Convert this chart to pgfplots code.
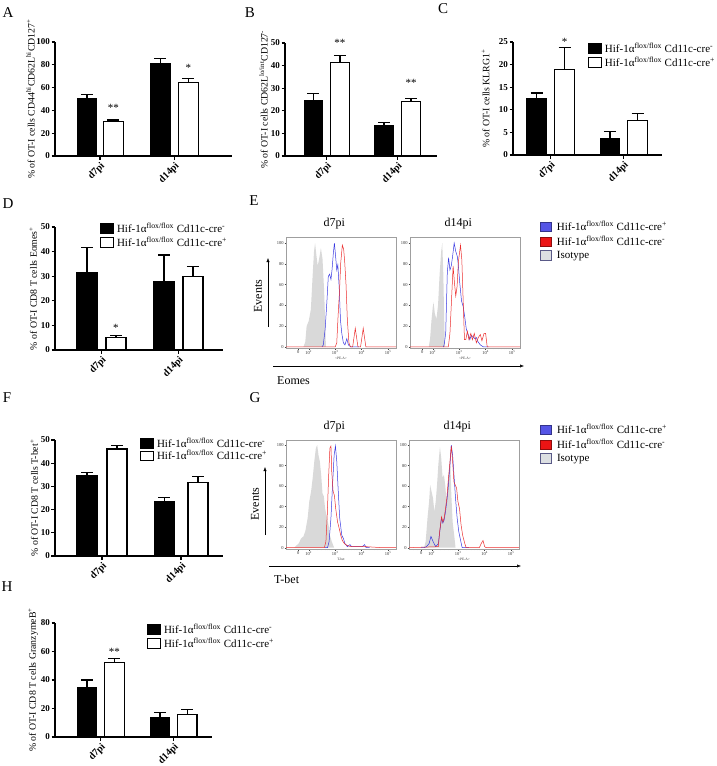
\documentclass[border=0pt]{standalone}
\usepackage{fontspec}
\setmainfont{Liberation Serif}
\usepackage{pgfplots}
\pgfplotsset{compat=1.18}
\usetikzlibrary{arrows.meta}
\definecolor{hblue}{RGB}{55,55,225}
\definecolor{hred}{RGB}{235,45,45}
\definecolor{hgray}{RGB}{217,217,217}
\definecolor{lgblue}{RGB}{85,85,230}
\definecolor{lgred}{RGB}{235,20,20}
\definecolor{lggray}{RGB}{220,223,226}
\newcommand{\legA}{Hif-1α\textsuperscript{flox/flox} Cd11c-cre\textsuperscript{-}}
\newcommand{\legB}{Hif-1α\textsuperscript{flox/flox} Cd11c-cre\textsuperscript{+}}
\newcommand{\blackbox}{\addlegendimage{legend image code/.code={\draw[fill=black,draw=black,line width=1pt] (0pt,-4.8pt) rectangle (13pt,4.8pt);}}}
\newcommand{\whitebox}{\addlegendimage{legend image code/.code={\draw[fill=white,draw=black,line width=1pt] (0pt,-4.8pt) rectangle (13pt,4.8pt);}}}
\newcommand{\bluebox}{\addlegendimage{legend image code/.code={\draw[fill=lgblue,draw=lgblue!60!black,line width=0.4pt] (0pt,-4.6pt) rectangle (10.5pt,4.6pt);}}}
\newcommand{\redbox}{\addlegendimage{legend image code/.code={\draw[fill=lgred,draw=lgred!60!black,line width=0.4pt] (0pt,-4.6pt) rectangle (10.5pt,4.6pt);}}}
\newcommand{\graybox}{\addlegendimage{legend image code/.code={\draw[fill=lggray,draw=black!40!blue!30!gray,line width=0.6pt] (0pt,-4.6pt) rectangle (10.5pt,4.6pt);}}}
\pgfplotsset{
  barax/.style={
    scale only axis, anchor=south west, clip=false,
    axis x line*=bottom, axis y line*=left,
    axis line style={line width=1.2pt,-},
    tick style={line width=1.2pt,black},
    tick align=outside, major tick length=3.5pt,
    ymin=0, xtick={1,2}, xticklabels={d7pi,d14pi},
    x tick label style={rotate=45, anchor=north east, inner sep=1pt, font=\fontsize{10}{10}\selectfont\bfseries},
    y tick label style={font=\fontsize{9}{9}\selectfont\bfseries, inner sep=1.5pt},
    /pgf/number format/assume math mode=true,
    ybar, bar width=19.5pt, bar shift=0pt,
    ylabel style={font=\fontsize{9.8}{11}\selectfont, anchor=south},
    legend style={draw=none, fill=none, anchor=north west, inner sep=0pt, row sep=1.5pt, column sep=2pt, nodes={inner sep=0.8pt}, font=\fontsize{11}{12}\selectfont},
    legend cell align=left,
  },
  blackbar/.style={fill=black, draw=black, line width=1.2pt,
    error bars/y dir=plus, error bars/y explicit,
    error bars/error bar style={line width=1.2pt, black},
    error bars/error mark options={rotate=90, mark size=6pt, line width=1.2pt, black}},
  whitebar/.style={fill=white, draw=black, line width=1.2pt,
    error bars/y dir=plus, error bars/y explicit,
    error bars/error bar style={line width=1.2pt, black},
    error bars/error mark options={rotate=90, mark size=6pt, line width=1.2pt, black}},
  histax/.style={
    scale only axis, anchor=south west, width=110pt,
    xmin=1.14, xmax=5.3, ymin=-1, ymax=105.8,
    axis line style={draw=gray!75, line width=0.5pt},
    xtick={1.6,2,3,4,5},
    xticklabels={0,10\textsuperscript{2},10\textsuperscript{3},10\textsuperscript{4},10\textsuperscript{5}},
    minor xtick={1.3,1.45,1.75,1.88,2.301,2.477,2.602,2.699,2.778,2.845,2.903,2.954,3.301,3.477,3.602,3.699,3.778,3.845,3.903,3.954,4.301,4.477,4.602,4.699,4.778,4.845,4.903,4.954},
    ytick={0,20,40,60,80,100},
    xtick pos=bottom, ytick pos=left, tick align=outside,
    major tick length=1.5pt, minor tick length=1pt,
    tick style={gray!50!black, line width=0.3pt},
    tick label style={font=\fontsize{4.5}{5}\selectfont, text=gray!40!black, inner sep=0.8pt},
    /pgf/number format/assume math mode=true,
    xlabel style={font=\fontsize{3.5}{4}\selectfont, text=gray!40!black, at={(axis description cs:0.5,0)}, anchor=north, yshift=-6pt},
    title style={font=\fontsize{12}{12}\selectfont, at={(axis description cs:0.44,1)}, anchor=south, inner sep=2pt},
    legend style={draw=none, fill=none, anchor=north west, inner sep=0pt, row sep=2.5pt, column sep=5pt, nodes={inner sep=0.8pt}, font=\fontsize{11}{12}\selectfont},
    legend cell align=left,
  },
  grayh/.style={fill=hgray, draw=none},
  blueh/.style={draw=hblue, line width=0.5pt},
  redh/.style={draw=hred, line width=0.5pt},
}
\begin{document}
\begin{tikzpicture}
\path[use as bounding box] (0pt,0pt) rectangle (716pt,-766pt);
% ---------------- A
\begin{axis}[barax, at={(55pt,-156pt)}, width=177pt, height=114pt,
  xmin=0.396, xmax=2.772, ymax=100, ytick={0,20,40,60,80,100},
  ylabel={\% of OT-I cells CD44\textsuperscript{hi}CD62L\textsuperscript{hi}CD127\textsuperscript{+}},
  ylabel style={at={(axis description cs:-0.095,0.5)}}]
\addplot[blackbar] coordinates {(0.8255,50) +- (0,4) (1.812,81) +- (0,4.3)};
\addplot[whitebar] coordinates {(1.181,30.5) +- (0,1) (2.188,64.8) +- (0,3.4)};
\node[font=\fontsize{11}{11}\selectfont] at (axis cs:1.181,42) {**};
\node[font=\fontsize{11}{11}\selectfont] at (axis cs:2.188,77) {*};
\end{axis}
% ---------------- B
\begin{axis}[barax, at={(285pt,-156pt)}, width=152pt, height=113pt, bar width=18.5pt,
  xmin=0.41, xmax=2.558, ymax=50, ytick={0,10,20,30,40,50},
  ylabel={\% of OT-I cells CD62L\textsuperscript{lo/int}CD127\textsuperscript{-}},
  ylabel style={at={(axis description cs:-0.09,0.5)}}]
\addplot[blackbar] coordinates {(0.8127,24.7) +- (0,3) (1.809,13.4) +- (0,1.6)};
\addplot[whitebar] coordinates {(1.187,41.4) +- (0,2.9) (2.191,24) +- (0,1.6)};
\node[font=\fontsize{11}{11}\selectfont] at (axis cs:1.187,50.2) {**};
\node[font=\fontsize{11}{11}\selectfont] at (axis cs:2.191,32.5) {**};
\end{axis}
% ---------------- C
\begin{axis}[barax, at={(513pt,-155pt)}, width=149pt, height=113pt,
  xmin=0.488, xmax=2.522, ymax=25, ytick={0,5,10,15,20,25},
  ylabel={\% of OT-I cells KLRG1\textsuperscript{+}},
  ylabel style={at={(axis description cs:-0.134,0.5)}},
  legend style={at={(axis description cs:0.503,1.0)}}]
\addplot[blackbar, forget plot] coordinates {(0.809,12.5) +- (0,1.2) (1.812,3.7) +- (0,1.5)};
\addplot[whitebar, forget plot] coordinates {(1.191,18.9) +- (0,4.8) (2.188,7.6) +- (0,1.5)};
\node[font=\fontsize{11}{11}\selectfont] at (axis cs:1.191,25) {*};
\blackbox\addlegendentry{\legA}
\whitebox\addlegendentry{\legB}
\end{axis}
% ---------------- D
\begin{axis}[barax, at={(55pt,-350pt)}, width=168pt, height=123pt, bar width=20pt,
  xmin=0.396, xmax=2.578, ymax=50, ytick={0,10,20,30,40,50},
  ylabel={\% of OT-I CD8 T cells Eomes\textsuperscript{+}},
  ylabel style={at={(axis description cs:-0.086,0.5)}},
  legend style={at={(axis description cs:0.268,1.04)}}]
\addplot[blackbar, forget plot] coordinates {(0.812,31.3) +- (0,10.3) (1.812,27.9) +- (0,10.7)};
\addplot[whitebar, forget plot] coordinates {(1.188,5.1) +- (0,0.7) (2.188,29.8) +- (0,4)};
\node[font=\fontsize{11}{11}\selectfont] at (axis cs:1.188,9) {*};
\blackbox\addlegendentry{\legA}
\whitebox\addlegendentry{\legB}
\end{axis}
% ---------------- F
\begin{axis}[barax, at={(55pt,-556pt)}, width=168pt, height=116pt, bar width=20pt,
  xmin=0.405, xmax=2.53, ymax=50, ytick={0,10,20,30,40,50},
  ylabel={\% of OT-I CD8 T cells T-bet\textsuperscript{+}},
  ylabel style={at={(axis description cs:-0.08,0.5)}},
  legend style={at={(axis description cs:0.506,1.026)}, row sep=0pt}]
\addplot[blackbar, forget plot] coordinates {(0.81,34.6) +- (0,1.4) (1.785,23.6) +- (0,1.6)};
\addplot[whitebar, forget plot] coordinates {(1.19,46.1) +- (0,1.4) (2.215,31.7) +- (0,2.4)};
\blackbox\addlegendentry{\legA}
\whitebox\addlegendentry{\legB}
\end{axis}
% ---------------- H
\begin{axis}[barax, at={(55pt,-737pt)}, width=157pt, height=114pt,
  xmin=0.373, xmax=2.524, ymax=80, ytick={0,20,40,60,80},
  ylabel={\% of OT-I CD8 T cells GranzymeB\textsuperscript{+}},
  ylabel style={at={(axis description cs:-0.086,0.5)}},
  legend style={at={(axis description cs:0.586,1.0)}}]
\addplot[blackbar, forget plot] coordinates {(0.812,34.8) +- (0,5.2) (1.812,13.6) +- (0,3.6)};
\addplot[whitebar, forget plot] coordinates {(1.188,52.5) +- (0,2.5) (2.185,15.8) +- (0,3.7)};
\node[font=\fontsize{11}{11}\selectfont] at (axis cs:1.188,59.5) {**};
\blackbox\addlegendentry{\legA}
\whitebox\addlegendentry{\legB}
\end{axis}
% ---------------- E d7
\begin{axis}[histax, at={(286pt,-348pt)}, height=111pt, title={d7pi}, xlabel={\textless PE-A\textgreater}]
\addplot[grayh] coordinates {(1.8,0)(1.87,5)(1.92,20)(2.0,25)(2.08,36)(2.15,70)(2.2,92)(2.24,100)(2.29,88)(2.34,78)(2.4,86)(2.46,95)(2.52,85)(2.58,55)(2.62,25)(2.65,0)} \closedcycle;
\addplot[blueh] coordinates {(2.5,0)(2.55,2)(2.62,17)(2.69,45)(2.74,68)(2.79,70)(2.84,65)(2.88,74)(2.93,90)(2.97,100)(3.02,86)(3.06,74)(3.1,79)(3.15,58)(3.2,26)(3.25,13)(3.31,4)(3.37,2)(3.44,8)(3.5,2)(3.59,0)(3.9,0)};
\addplot[redh] coordinates {(1.14,0)(3.0,0)(3.06,4)(3.11,30)(3.16,52)(3.21,81)(3.27,98)(3.32,94)(3.36,82)(3.41,60)(3.46,26)(3.52,4)(3.58,0)(3.66,0)(3.76,18)(3.86,0)(3.96,0)(4.06,18)(4.16,0)(5.3,0)};
\end{axis}
% ---------------- E d14
\begin{axis}[histax, at={(410pt,-348pt)}, height=111pt, title={d14pi}, xlabel={\textless PE-A\textgreater},
  legend style={at={(axis description cs:1.18,1.153)}}]
\addplot[grayh, forget plot] coordinates {(1.85,0)(1.9,8)(1.95,25)(2.0,38)(2.03,43)(2.08,32)(2.14,27)(2.2,40)(2.26,70)(2.32,92)(2.36,100)(2.4,70)(2.43,30)(2.46,0)} \closedcycle;
\addplot[blueh, forget plot] coordinates {(2.4,0)(2.43,2)(2.49,13)(2.55,71)(2.6,86)(2.65,74)(2.7,78)(2.75,87)(2.81,100)(2.87,92)(2.93,87)(2.97,78)(3.02,62)(3.09,44)(3.15,39)(3.21,29)(3.27,17)(3.34,12)(3.4,7)(3.46,11)(3.52,10)(3.59,8)(3.65,9)(3.71,5)(3.8,2)(3.92,0)(4.1,0)};
\addplot[redh, forget plot] coordinates {(1.14,0)(2.59,0)(2.65,13)(2.71,45)(2.77,78)(2.82,62)(2.87,49)(2.92,58)(2.97,82)(3.05,98)(3.1,84)(3.15,45)(3.2,7)(3.25,7)(3.31,15)(3.37,7)(3.44,13)(3.5,7)(3.57,13)(3.65,4)(3.72,9)(3.8,12)(3.86,6)(3.94,13)(4.0,13)(4.06,0)(5.3,0)};
\bluebox\addlegendentry{\legB}
\redbox\addlegendentry{\legA}
\graybox\addlegendentry{Isotype}
\end{axis}
% ---------------- G d7
\begin{axis}[histax, at={(286pt,-549pt)}, height=109pt, ymin=-1.3, ymax=104.9, title={d7pi}, xlabel={T-bet}]
\addplot[grayh] coordinates {(1.45,0)(1.53,2)(1.62,4)(1.71,9)(1.8,11)(1.87,16)(1.96,29)(2.02,45)(2.09,55)(2.15,68)(2.21,84)(2.27,97)(2.32,100)(2.37,90)(2.42,84)(2.47,71)(2.52,53)(2.57,50)(2.62,38)(2.69,29)(2.75,22)(2.8,12)(2.87,6)(2.96,0)} \closedcycle;
\addplot[blueh] coordinates {(2.6,0)(2.71,0)(2.77,6)(2.84,29)(2.9,61)(2.96,90)(3.01,99)(3.06,84)(3.11,58)(3.17,29)(3.25,12)(3.31,9)(3.37,4)(3.46,1)(3.56,3)(3.62,1)(4.03,1)(4.11,3)(4.17,0)(4.3,0)};
\addplot[redh] coordinates {(1.14,0)(2.59,0)(2.65,6)(2.7,32)(2.75,68)(2.8,97)(2.84,99)(2.87,74)(2.92,55)(2.97,51)(3.02,38)(3.09,25)(3.15,19)(3.21,12)(3.27,7)(3.35,4)(3.46,2)(3.59,1)(4.15,1)(4.78,0)(5.3,0)};
\end{axis}
% ---------------- G d14
\begin{axis}[histax, at={(409pt,-549pt)}, height=109pt, ymin=-1.3, ymax=104.9, title={d14pi}, xlabel={\textless PE-A\textgreater},
  legend style={at={(axis description cs:1.19,1.156)}}]
\addplot[grayh, forget plot] coordinates {(1.71,0)(1.77,6)(1.84,29)(1.9,45)(1.94,61)(1.99,55)(2.05,48)(2.1,35)(2.15,45)(2.2,61)(2.25,81)(2.31,98)(2.36,87)(2.41,68)(2.46,71)(2.51,61)(2.56,45)(2.61,58)(2.66,77)(2.7,87)(2.74,52)(2.79,25)(2.85,12)(2.9,0)} \closedcycle;
\addplot[blueh, forget plot] coordinates {(1.6,0)(1.71,0)(1.8,1)(1.9,4)(1.97,11)(2.05,6)(2.15,1)(2.25,4)(2.32,19)(2.37,29)(2.42,24)(2.47,27)(2.52,35)(2.57,45)(2.62,58)(2.69,81)(2.74,100)(2.79,90)(2.84,71)(2.9,48)(2.96,29)(3.02,16)(3.1,6)(3.15,0)(3.4,0)};
\addplot[redh, forget plot] coordinates {(1.14,0)(2.25,1)(2.3,16)(2.37,30)(2.42,25)(2.47,29)(2.52,38)(2.57,48)(2.62,64)(2.69,84)(2.74,99)(2.79,84)(2.84,64)(2.89,61)(2.94,58)(2.99,45)(3.05,38)(3.11,22)(3.17,12)(3.25,4)(3.3,0)(3.8,0)(3.87,4)(3.94,7)(4.0,1)(4.06,0)(5.3,0)};
\bluebox\addlegendentry{\legB}
\redbox\addlegendentry{\legA}
\graybox\addlegendentry{Isotype}
\end{axis}
% ---------------- arrows and labels
\draw[-{Latex[length=4pt,width=3.2pt]}, line width=0.5pt] (268pt,-327pt) -- (268pt,-258pt);
\draw[-{Latex[length=4pt,width=3.2pt]}, line width=0.5pt] (273pt,-366pt) -- (524pt,-366pt);
\node[rotate=90, font=\fontsize{12}{12}\selectfont] at (258pt,-296pt) {Events};
\node[anchor=base west, inner sep=0pt, font=\fontsize{12}{12}\selectfont] at (277pt,-384pt) {Eomes};
\draw[-{Latex[length=4pt,width=3.2pt]}, line width=0.5pt] (265pt,-535pt) -- (265pt,-467pt);
\draw[-{Latex[length=4pt,width=3.2pt]}, line width=0.5pt] (269pt,-566pt) -- (521pt,-566pt);
\node[rotate=90, font=\fontsize{12}{12}\selectfont] at (255pt,-504pt) {Events};
\node[anchor=base west, inner sep=0pt, font=\fontsize{12}{12}\selectfont] at (274pt,-583pt) {T-bet};
% panel letters
\begin{scope}[every node/.style={font=\fontsize{15}{15}\selectfont, inner sep=0pt}]
\node at (8pt,-13pt) {A};
\node at (250pt,-13pt) {B};
\node at (443pt,-9pt) {C};
\node at (8pt,-204pt) {D};
\node at (254pt,-201pt) {E};
\node at (7pt,-398pt) {F};
\node at (255pt,-398pt) {G};
\node at (7pt,-587pt) {H};
\end{scope}
\end{tikzpicture}
\end{document}
